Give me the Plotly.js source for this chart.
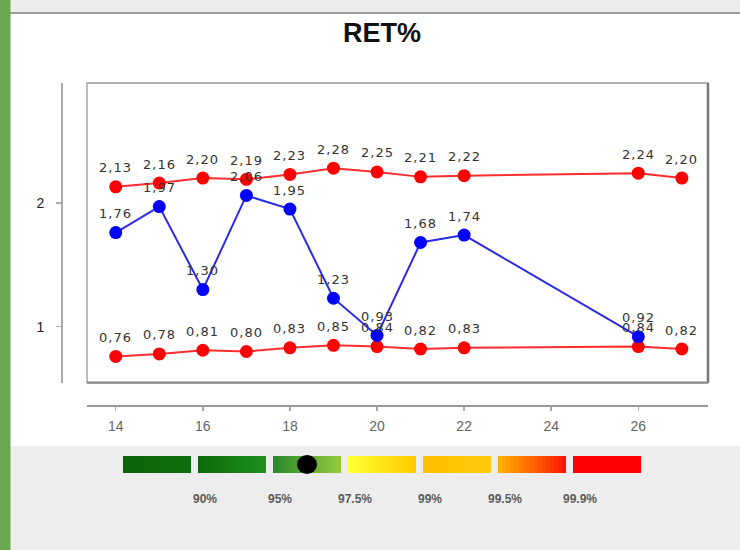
<!DOCTYPE html>
<html>
<head>
<meta charset="utf-8">
<script src="https://cdn.plot.ly/plotly-3.0.1.min.js"></script>
<style>
  html, body { margin: 0; padding: 0; background: #ffffff; }
  #chart { width: 740px; height: 550px; }
  .annotation-text.ptlabel { letter-spacing: 1px; }
</style>
</head>
<body>
<div id="chart"></div>
<script>
// Week numbers on the x axis
const weeks = [14, 15, 16, 17, 18, 19, 20, 21, 22, 26, 27];
// Upper and lower control limits (red)
const upperLimit = [2.13, 2.16, 2.20, 2.19, 2.23, 2.28, 2.25, 2.21, 2.22, 2.24, 2.20];
const lowerLimit = [0.76, 0.78, 0.81, 0.80, 0.83, 0.85, 0.84, 0.82, 0.83, 0.84, 0.82];
// Measured RET% (blue)
const retWeeks = [14, 15, 16, 17, 18, 19, 20, 21, 22, 26];
const retValues = [1.76, 1.97, 1.30, 2.06, 1.95, 1.23, 0.93, 1.68, 1.74, 0.92];
// Axis ticks
const xTicks = [14, 16, 18, 20, 22, 24, 26];
const yTicks = [1, 2];
// Confidence scale under the chart
const bandLabels = ['90%', '95%', '97.5%', '99%', '99.5%', '99.9%'];
const bandColors = [
  ['#0a650a', '#0d6e0d'],
  ['#0b6b0b', '#1f8e1f'],
  ['#2a8a2a', '#95c93c'],
  ['#ffff33', '#ffcc00'],
  ['#ffc000', '#ffc90a'],
  ['#ffb000', '#ff1800'],
  ['#ff0000', '#ff0000']
];

// ---- page geometry (pixels) ----
const PW = 740, PH = 550;
const M = { l: 62, r: 32, t: 83, b: 144 };
const AW = PW - M.l - M.r, AH = PH - M.t - M.b;
const px = v => (v - M.l) / AW;
const py = v => (PH - M.b - v) / AH;

const fmt = v => v.toFixed(2).replace('.', ',');

const traces = [
  {
    x: weeks, y: upperLimit, type: 'scatter', mode: 'lines+markers',
    line: { color: 'rgb(255,45,45)', width: 2 },
    marker: { color: '#ff0000', size: 13 }, hoverinfo: 'skip', cliponaxis: false
  },
  {
    x: weeks, y: lowerLimit, type: 'scatter', mode: 'lines+markers',
    line: { color: 'rgb(255,45,45)', width: 2 },
    marker: { color: '#ff0000', size: 13 }, hoverinfo: 'skip', cliponaxis: false
  },
  {
    x: retWeeks, y: retValues, type: 'scatter', mode: 'lines+markers',
    line: { color: '#2b2be6', width: 2 },
    marker: { color: '#0000ff', size: 13 }, hoverinfo: 'skip', cliponaxis: false
  }
];

// value labels above each point
const annotations = [];
function addLabels(xs, ys) {
  xs.forEach((x, i) => {
    annotations.push({
      x: x, y: ys[i], xref: 'x', yref: 'y', text: fmt(ys[i]),
      showarrow: false, yshift: 19, xanchor: 'center', yanchor: 'middle',
      font: { family: 'DejaVu Sans', size: 13, color: '#333333' },
      captureevents: false
    });
  });
}
addLabels(weeks, upperLimit);
addLabels(weeks, lowerLimit);
addLabels(retWeeks, retValues);

const shapes = [];
// page frame: green side strip, grey header and footer
shapes.push({ type: 'rect', xref: 'paper', yref: 'paper', x0: px(0), x1: px(PW), y0: py(PH), y1: py(446),
  fillcolor: '#ededed', line: { width: 0 }, layer: 'below' });
shapes.push({ type: 'rect', xref: 'paper', yref: 'paper', x0: px(0), x1: px(PW), y0: py(12), y1: py(0),
  fillcolor: '#ececec', line: { width: 0 }, layer: 'below' });
shapes.push({ type: 'line', xref: 'paper', yref: 'paper', x0: px(0), x1: px(PW), y0: py(13), y1: py(13),
  line: { color: '#9a9a9a', width: 2 }, layer: 'below' });
shapes.push({ type: 'rect', xref: 'paper', yref: 'paper', x0: px(0), x1: px(10.5), y0: py(PH), y1: py(0),
  fillcolor: '#6aa84f', line: { width: 0 }, layer: 'below' });

// plot box
shapes.push({ type: 'rect', xref: 'x domain', yref: 'y domain', x0: 0, x1: 1, y0: 0, y1: 1,
  line: { color: '#9a9a9a', width: 1.3 }, layer: 'below' });
shapes.push({ type: 'line', xref: 'x domain', yref: 'y domain', x0: 1, x1: 1, y0: 0, y1: 1,
  line: { color: '#7a7a7a', width: 2.6 }, layer: 'below' });
shapes.push({ type: 'line', xref: 'x domain', yref: 'y domain', x0: 0, x1: 1, y0: 0, y1: 0,
  line: { color: '#8a8a8a', width: 2.2 }, layer: 'below' });

// confidence scale segments with horizontal gradients
const hex = h => [1, 3, 5].map(k => parseInt(h.substr(k, 2), 16));
const segX0 = 123, segW = 68, segPitch = 75, segTop = 456, segBot = 473;
const slices = 17;
bandColors.forEach((pair, s) => {
  const a = hex(pair[0]), b = hex(pair[1]);
  const x0 = segX0 + s * segPitch;
  const sw = segW / slices;
  for (let k = 0; k < slices; k++) {
    const t = k / (slices - 1);
    const c = a.map((v, j) => Math.round(v + (b[j] - v) * t));
    const left = x0 + sw * k;
    const right = k === slices - 1 ? x0 + segW : x0 + sw * (k + 1) + 1;
    shapes.push({ type: 'rect', xref: 'paper', yref: 'paper',
      x0: px(left), x1: px(right),
      y0: py(segBot), y1: py(segTop),
      fillcolor: 'rgb(' + c.join(',') + ')', line: { width: 0 } });
  }
});
// current position marker on the scale
shapes.push({ type: 'circle', xref: 'paper', yref: 'paper',
  x0: px(297), x1: px(317), y0: py(474), y1: py(455),
  fillcolor: '#000000', line: { width: 0 } });

bandLabels.forEach((t, i) => {
  annotations.push({
    xref: 'paper', yref: 'paper', x: px(segX0 + segW + 4 + i * segPitch + 10), y: py(499),
    text: '<b>' + t + '</b>', showarrow: false, xanchor: 'center', yanchor: 'middle',
    font: { family: 'Liberation Sans', size: 12, color: '#5c5c5c' }
  });
});

const layout = {
  width: PW, height: PH,
  margin: M,
  paper_bgcolor: '#ffffff', plot_bgcolor: '#ffffff',
  showlegend: false,
  title: {
    text: '<b>RET%</b>', xref: 'container', yref: 'container',
    x: 382 / PW, y: 1 - 33 / PH, xanchor: 'center', yanchor: 'middle',
    font: { family: 'Liberation Sans', size: 27, color: '#111111' }
  },
  xaxis: {
    domain: [px(87), 1], range: [13.34, 27.60],
    anchor: 'free', position: 0,
    tickvals: xTicks, ticktext: xTicks.map(String),
    showgrid: false, zeroline: false,
    showline: true, linecolor: '#999999', linewidth: 2,
    ticks: 'outside', ticklen: 4, tickwidth: 1.5, tickcolor: '#aaaaaa',
    ticklabelstandoff: 3,
    tickfont: { family: 'Liberation Sans', size: 14, color: '#666666' }
  },
  yaxis: {
    domain: [py(382.7), 1], range: [0.548, 2.968],
    anchor: 'free', position: 0,
    tickvals: yTicks, ticktext: yTicks.map(String),
    showgrid: false, zeroline: false,
    showline: true, linecolor: '#aaaaaa', linewidth: 2,
    ticks: 'outside', ticklen: 5, tickwidth: 1.5, tickcolor: '#aaaaaa',
    ticklabelstandoff: 9,
    tickfont: { family: 'Liberation Sans', size: 14, color: '#222222' }
  },
  shapes: shapes,
  annotations: annotations
};

// tag the point labels so they get the wider letter spacing
Plotly.newPlot('chart', traces, layout, { staticPlot: true, displayModeBar: false }).then(gd => {
  const n = weeks.length * 2 + retWeeks.length;
  gd.querySelectorAll('.annotation').forEach((g, i) => {
    if (i < n) {
      const t = g.querySelector('.annotation-text');
      if (t) t.classList.add('ptlabel');
    }
  });
});
</script>
</body>
</html>
